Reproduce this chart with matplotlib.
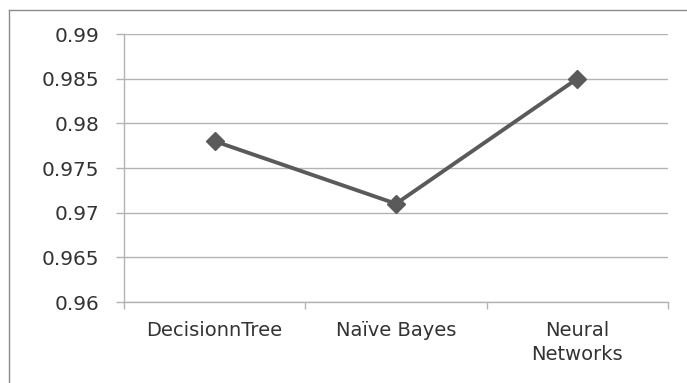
import matplotlib.pyplot as plt
from matplotlib.lines import Line2D

# --------------------
# Data
# --------------------
models = ["DecisionnTree", "Naïve Bayes", "Neural\nNetworks"]
accuracy = [0.978, 0.971, 0.985]
yticks = [0.96, 0.965, 0.97, 0.975, 0.98, 0.985, 0.99]
ytick_labels = ["0.96", "0.965", "0.97", "0.975", "0.98", "0.985", "0.99"]

plt.rcParams['font.family'] = ['DejaVu Sans']

fig = plt.figure(figsize=(6.87, 3.83), dpi=100)
ax = fig.add_axes([124 / 687, 1 - 302 / 383, (668 - 124) / 687, (302 - 34) / 383])

grid_c = "#b3b3b3"
line_c = "#5a5a5a"
text_c = "#333333"

x = list(range(len(models)))
ax.plot(x, accuracy, color=line_c, linewidth=2.8, marker="D", markersize=9,
        zorder=3, clip_on=False)

ax.set_xlim(-0.5, len(models) - 0.5)
ax.set_ylim(0.96, 0.99)
ax.set_yticks(yticks)
ax.set_yticklabels(ytick_labels)
ax.yaxis.grid(True, color=grid_c, linewidth=1)
ax.set_axisbelow(True)

# category ticks sit between the labels
ax.set_xticks([i - 0.5 for i in range(len(models) + 1)])
ax.set_xticklabels([])
ax.set_xticks(x, minor=True)
ax.set_xticklabels(models, minor=True, fontsize=14, color=text_c,
                   linespacing=1.3, va="top")
ax.tick_params(axis="x", which="minor", length=0, pad=14)
ax.tick_params(axis="x", which="major", length=5, color=grid_c, width=1)
ax.tick_params(axis="y", length=6, color=grid_c, width=1, labelsize=14.5,
               labelcolor=text_c, pad=12)

for side in ["top", "right"]:
    ax.spines[side].set_visible(False)
for side in ["left", "bottom"]:
    ax.spines[side].set_color(grid_c)
    ax.spines[side].set_linewidth(1)

# outer chart border (left and top visible)
fig.add_artist(Line2D([9 / 687, 9 / 687], [0, 1 - 10 / 383],
                      transform=fig.transFigure, color="#8c8c8c", linewidth=1))
fig.add_artist(Line2D([9 / 687, 1], [1 - 10 / 383, 1 - 10 / 383],
                      transform=fig.transFigure, color="#8c8c8c", linewidth=1))

fig.savefig("out.png", dpi=100)
